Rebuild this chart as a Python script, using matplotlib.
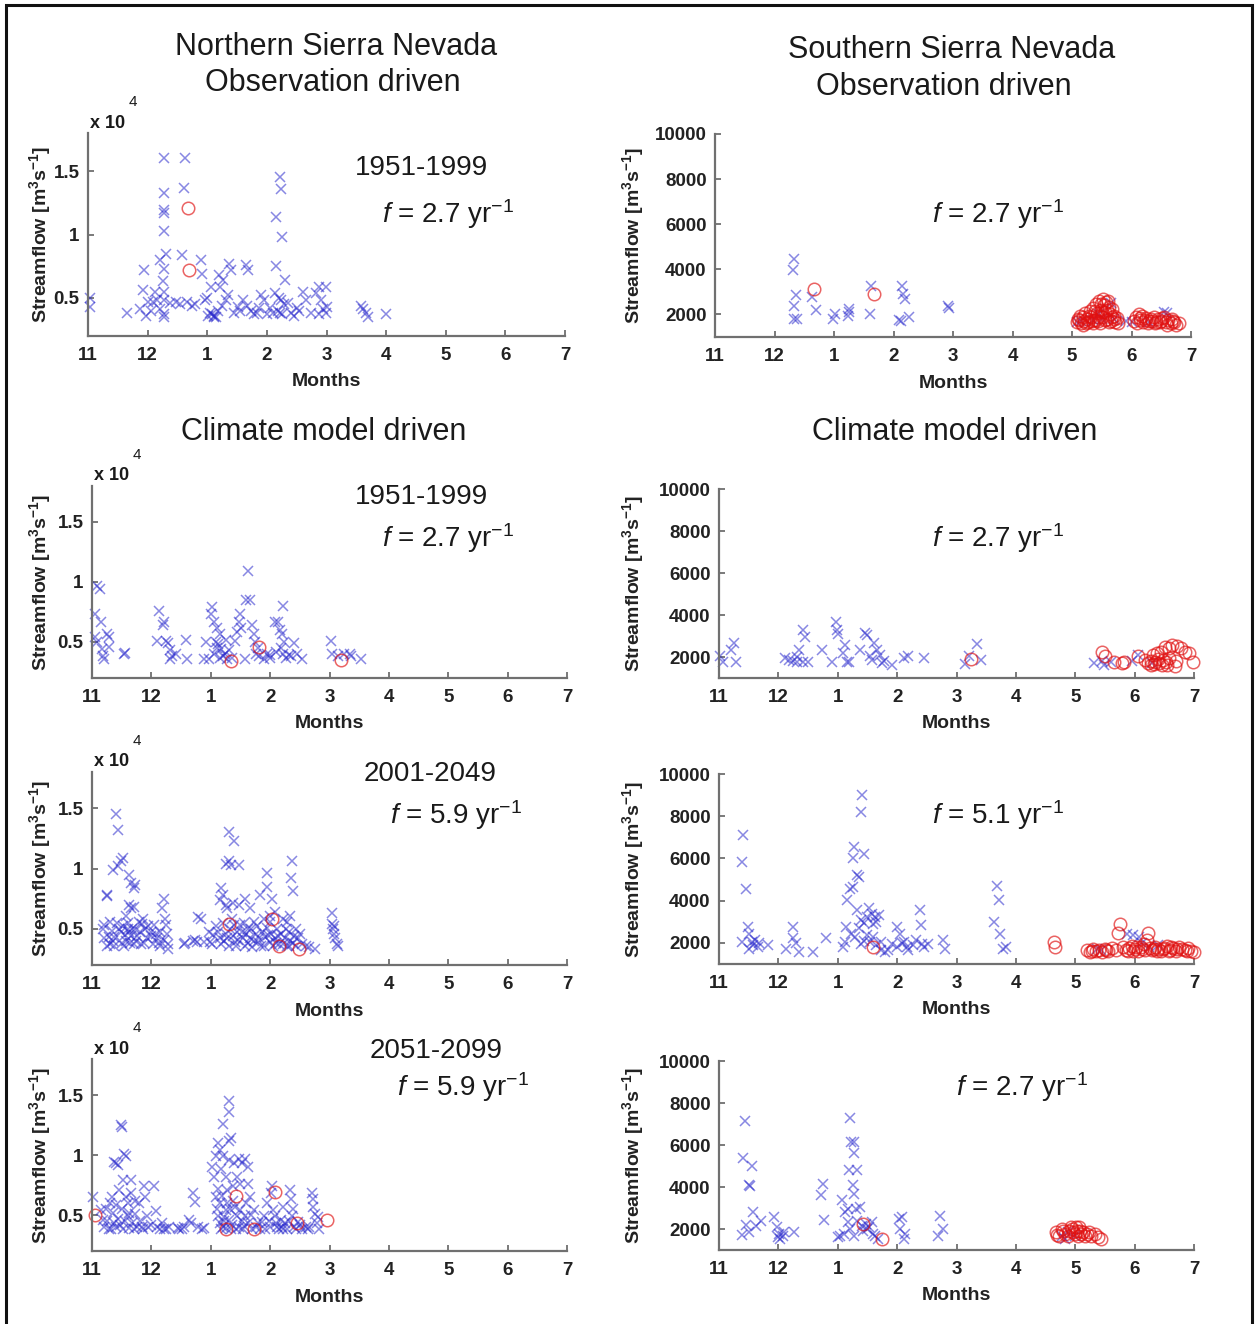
import matplotlib
matplotlib.use("Agg")
import matplotlib.pyplot as plt
from matplotlib.patches import Rectangle

plt.rcParams['font.family'] = ['Liberation Sans', 'DejaVu Sans']
plt.rcParams['mathtext.fontset'] = 'custom'
plt.rcParams['mathtext.rm'] = 'Liberation Sans'
plt.rcParams['mathtext.it'] = 'Liberation Sans:italic'
plt.rcParams['mathtext.bf'] = 'Liberation Sans:bold'

# x position = months after 1 November (0 -> "11", 8 -> "7")
month_labels = ['11', '12', '1', '2', '3', '4', '5', '6', '7']

# ---- Northern Sierra Nevada, observation driven (flow in 1e4 m3/s)
north_obs_x = [(0.04, 0.50), (0.04, 0.43), (0.65, 0.38), (0.87, 0.41), (0.93, 0.56), (0.94, 0.72), (1.0, 0.47),
               (1.09, 0.47), (1.16, 0.48), (1.21, 0.41), (1.20, 0.80), (1.27, 1.60), (1.27, 1.33), (1.27, 1.19),
               (1.28, 1.17), (1.27, 1.03), (1.27, 0.73), (1.26, 0.63), (1.27, 0.55), (1.27, 0.48), (1.27, 0.37),
               (1.28, 0.35), (1.31, 0.85), (1.58, 0.84), (1.62, 1.60), (1.61, 1.37), (1.38, 0.46), (1.47, 0.47),
               (1.55, 0.45), (1.66, 0.47), (1.80, 0.45), (1.89, 0.80), (1.92, 0.69), (1.97, 0.48), (2.0, 0.50),
               (2.07, 0.59), (2.04, 0.38), (2.11, 0.35), (2.14, 0.35), (2.2, 0.68), (2.22, 0.59), (2.27, 0.64),
               (2.31, 0.48), (2.37, 0.77), (2.39, 0.72), (2.45, 0.38), (2.51, 0.43), (2.65, 0.76), (2.69, 0.72),
               (2.67, 0.44), (2.79, 0.37), (2.84, 0.38), (2.9, 0.52), (2.96, 0.48), (3.01, 0.37), (3.1, 0.38),
               (3.22, 1.45), (3.23, 1.36), (3.16, 1.14), (3.26, 0.98), (3.15, 0.75), (3.3, 0.64), (3.13, 0.54),
               (3.2, 0.50), (3.24, 0.48), (3.28, 0.45), (3.22, 0.38), (3.25, 0.37), (3.35, 0.46), (3.4, 0.38),
               (3.46, 0.36), (3.54, 0.40), (3.6, 0.55), (3.66, 0.48), (3.74, 0.38), (3.83, 0.54), (3.88, 0.59),
               (3.91, 0.48), (3.99, 0.59), (4.01, 0.43), (3.99, 0.38), (3.88, 0.37), (3.94, 0.41), (4.58, 0.44),
               (4.61, 0.41), (4.67, 0.38), (4.70, 0.35), (5.0, 0.37), (1.12, 0.55), (1.05, 0.40), (0.98, 0.36),
               (2.02, 0.36), (2.08, 0.37), (2.12, 0.36), (2.18, 0.40), (2.25, 0.44), (2.35, 0.52), (2.55, 0.40),
               (2.6, 0.48), (2.73, 0.40), (2.86, 0.42), (3.05, 0.42), (3.18, 0.40), (3.5, 0.42), (1.74, 0.44)]
north_obs_o = [(1.67, 1.21), (1.69, 0.72)]

# ---- Southern Sierra Nevada, observation driven (m3/s)
south_obs_x = [(1.33, 4440), (1.31, 3960), (1.36, 2880), (1.33, 2390), (1.32, 1810), (1.38, 1810), (1.63, 2790),
               (1.70, 2200), (1.99, 1810), (2.01, 2030), (2.23, 1910), (2.26, 2250), (2.25, 2100), (2.61, 2000),
               (2.63, 3270), (3.10, 1770), (3.14, 3270), (3.16, 2900), (3.20, 2690), (3.26, 1880), (3.12, 1700),
               (3.91, 2370), (3.93, 2300), (6.08, 1650), (6.15, 1700), (6.5, 1800), (6.65, 2500), (6.9, 1700),
               (7.0, 1650), (7.55, 2100), (7.6, 2050), (6.7, 1800), (6.35, 1750), (6.45, 2000), (7.3, 1650)]
south_obs_o = [(1.66, 3150), (2.67, 2900),
               (6.08, 1650), (6.12, 1750), (6.15, 1600), (6.18, 1900), (6.2, 1700), (6.22, 2050), (6.25, 1800),
               (6.27, 1650), (6.3, 2150), (6.32, 1900), (6.35, 2300), (6.37, 1750), (6.4, 2450), (6.42, 2050),
               (6.44, 1700), (6.46, 2600), (6.48, 2200), (6.5, 1900), (6.52, 2700), (6.54, 2400), (6.56, 2100),
               (6.58, 1800), (6.6, 2600), (6.62, 2350), (6.64, 2000), (6.66, 1700), (6.68, 2250), (6.7, 1950),
               (6.72, 1650), (6.75, 1850), (6.78, 1600), (7.05, 1700), (7.08, 1900), (7.12, 2000), (7.15, 1750),
               (7.18, 1950), (7.2, 1650), (7.25, 1850), (7.28, 1600), (7.32, 1800), (7.35, 1700), (7.38, 1900),
               (7.42, 1650), (7.45, 1800), (7.5, 1700), (7.55, 1900), (7.58, 1650), (7.62, 1750), (7.66, 1600),
               (7.7, 1700), (7.75, 1550), (7.8, 1600),
               (6.1, 1800), (6.14, 1950), (6.19, 1550), (6.24, 1600), (6.28, 1950), (6.33, 1700), (6.38, 2150),
               (6.43, 1900), (6.47, 1600), (6.51, 2100), (6.55, 1750), (6.59, 2200), (6.63, 1650), (6.67, 1900),
               (6.71, 1800), (6.36, 1600), (6.41, 1750), (6.57, 2550), (6.49, 2450),
               (7.1, 1600), (7.14, 1850), (7.22, 1750), (7.3, 1700), (7.4, 1600), (7.48, 1650), (7.52, 1850),
               (7.6, 1550), (7.68, 1800), (7.72, 1650)]

# ---- Northern, climate model 1951-1999
north_hist_x = [(0.08, 0.97), (0.13, 0.94), (0.05, 0.73), (0.15, 0.67), (0.25, 0.57), (0.28, 0.54), (0.05, 0.54),
                (0.08, 0.50), (0.17, 0.44), (0.18, 0.38), (0.21, 0.36), (0.28, 0.46), (0.54, 0.40), (0.56, 0.41),
                (1.13, 0.76), (1.21, 0.67), (1.20, 0.64), (1.10, 0.51), (1.24, 0.51), (1.28, 0.49), (1.31, 0.43),
                (1.34, 0.38), (1.31, 0.36), (1.41, 0.40), (1.59, 0.52), (1.60, 0.36), (1.92, 0.50), (1.89, 0.36),
                (1.97, 0.36), (2.02, 0.79), (2.0, 0.73), (2.05, 0.67), (2.11, 0.62), (2.15, 0.57), (2.08, 0.50),
                (2.13, 0.48), (2.18, 0.44), (2.24, 0.40), (2.28, 0.36), (2.31, 0.43), (2.4, 0.51), (2.44, 0.58),
                (2.47, 0.67), (2.51, 0.62), (2.5, 0.73), (2.57, 0.36), (2.6, 0.85), (2.63, 1.09), (2.66, 0.85),
                (2.69, 0.64), (2.73, 0.57), (2.75, 0.50), (2.77, 0.40), (2.82, 0.38), (2.89, 0.36), (2.95, 0.40),
                (2.99, 0.39), (3.08, 0.67), (3.13, 0.67), (3.16, 0.60), (3.21, 0.80), (3.2, 0.57), (3.24, 0.50),
                (3.21, 0.40), (3.31, 0.39), (3.35, 0.38), (3.4, 0.49), (3.46, 0.40), (3.53, 0.36), (4.02, 0.51),
                (4.05, 0.40), (4.15, 0.38), (4.24, 0.40), (4.34, 0.40), (4.37, 0.38), (4.53, 0.36), (2.1, 0.45),
                (2.2, 0.38), (2.36, 0.37), (3.0, 0.37), (3.1, 0.42), (2.06, 0.40), (2.16, 0.37), (2.26, 0.52),
                (2.8, 0.45), (3.27, 0.37), (3.18, 0.45)]
north_hist_o = [(2.34, 0.34), (2.81, 0.46), (4.2, 0.35)]

# ---- Southern, climate model 1951-1999
south_hist_x = [(0.01, 2030), (0.06, 1750), (0.21, 2310), (0.26, 2650), (0.28, 1750), (1.11, 1950), (1.18, 1850),
                (1.25, 1800), (1.31, 1750), (1.35, 2340), (1.41, 3300), (1.45, 2960), (1.41, 1750), (1.5, 1750),
                (1.31, 2000), (1.73, 2340), (1.91, 1750), (1.97, 3660), (1.99, 3270), (2.01, 3110), (2.08, 2190),
                (2.13, 2570), (2.15, 1750), (2.19, 1750), (2.38, 2310), (2.46, 3150), (2.5, 3040), (2.55, 2030),
                (2.57, 1880), (2.61, 2650), (2.66, 2340), (2.71, 2110), (2.75, 1720), (2.78, 1800), (2.91, 1640),
                (3.11, 1950), (3.18, 2030), (3.45, 1950), (4.15, 1690), (4.21, 2030), (4.35, 2620), (4.41, 1850),
                (6.31, 1720), (6.45, 1800), (6.48, 1640), (7.05, 2110), (6.95, 1800), (6.6, 1750), (7.3, 1700)]
south_hist_o = [(4.25, 1910), (6.45, 2220), (6.5, 2030), (6.65, 1750), (6.79, 1720), (6.82, 1750), (7.05, 2030),
                (7.18, 1880), (7.28, 1800), (7.31, 2110), (7.38, 2190), (7.45, 2260), (7.51, 2500), (7.58, 2420),
                (7.63, 2570), (7.71, 2530), (7.78, 2420), (7.85, 2260), (7.91, 2190), (7.98, 1750), (7.41, 1720),
                (7.35, 1750), (7.48, 1880), (7.58, 1950), (7.22, 1700), (7.28, 1640), (7.55, 1640), (7.68, 1570),
                (7.7, 1800), (7.33, 1650), (7.4, 1900), (7.46, 1600), (7.53, 1750)]

# ---- Northern, climate model 2001-2049
north_mid_x = [(0.41, 1.45), (0.43, 1.32), (0.36, 0.99), (0.44, 1.02), (0.49, 1.06), (0.52, 1.09), (0.25, 0.78),
               (0.26, 0.77), (0.31, 0.56), (0.21, 0.53), (0.28, 0.43), (0.25, 0.36), (0.37, 0.36), (0.35, 0.40),
               (0.18, 0.50), (0.21, 0.42), (0.31, 0.37), (0.37, 0.43), (0.63, 0.95), (0.66, 0.88), (0.70, 0.84),
               (0.73, 0.86), (0.63, 0.70), (0.66, 0.67), (0.71, 0.68), (0.57, 0.61), (0.60, 0.50), (0.62, 0.47),
               (0.66, 0.44), (0.70, 0.37), (0.54, 0.36), (0.73, 0.50), (0.76, 0.44), (0.83, 0.37), (0.79, 0.56),
               (0.86, 0.58), (0.89, 0.50), (0.92, 0.42), (0.99, 0.47), (1.02, 0.37), (1.05, 0.53), (1.08, 0.46),
               (1.10, 0.42), (1.14, 0.47), (1.15, 0.36), (1.18, 0.67), (1.21, 0.75), (1.23, 0.58), (1.25, 0.53),
               (1.26, 0.46), (1.28, 0.37), (1.28, 0.33), (1.55, 0.37), (1.57, 0.38), (1.70, 0.40), (1.73, 0.41),
               (1.76, 0.39), (1.79, 0.60), (1.83, 0.58), (1.89, 0.39), (1.99, 0.39), (1.97, 0.47), (2.02, 0.37),
               (2.31, 1.30), (2.39, 1.23), (2.31, 1.06), (2.25, 1.04), (2.34, 1.03), (2.47, 1.03), (2.18, 0.84),
               (2.21, 0.78), (2.15, 0.74), (2.25, 0.70), (2.28, 0.67), (2.37, 0.71), (2.47, 0.70), (2.57, 0.75),
               (2.66, 0.67), (2.83, 0.78), (2.95, 0.96), (2.95, 0.85), (3.03, 0.75), (3.08, 0.64), (2.99, 0.61),
               (2.89, 0.58), (3.37, 1.06), (3.35, 0.92), (3.39, 0.81), (3.21, 0.58), (3.28, 0.56), (3.34, 0.61),
               (3.44, 0.50), (3.47, 0.42), (3.54, 0.37), (3.60, 0.36), (3.66, 0.35), (3.76, 0.33), (2.12, 0.47),
               (2.15, 0.42), (2.18, 0.37), (2.25, 0.46), (2.28, 0.42), (2.31, 0.36), (2.37, 0.44), (2.41, 0.39),
               (2.44, 0.47), (2.50, 0.53), (2.54, 0.42), (2.57, 0.36), (2.60, 0.46), (2.63, 0.50), (2.66, 0.42),
               (2.70, 0.35), (2.73, 0.56), (2.76, 0.46), (2.79, 0.39), (2.86, 0.47), (2.89, 0.36), (2.92, 0.43),
               (2.95, 0.51), (2.99, 0.39), (3.02, 0.46), (3.05, 0.36), (3.08, 0.42), (3.12, 0.50), (3.15, 0.37),
               (3.18, 0.46), (3.25, 0.42), (3.28, 0.36), (3.31, 0.47), (3.34, 0.40), (3.41, 0.44), (3.50, 0.46),
               (4.04, 0.63), (4.05, 0.54), (4.06, 0.50), (4.08, 0.46), (4.10, 0.42), (4.13, 0.37), (4.15, 0.36),
               (4.07, 0.52),
               (0.46, 0.50), (0.48, 0.47), (0.50, 0.38), (0.52, 0.52), (0.55, 0.45), (0.58, 0.40), (0.61, 0.55),
               (0.64, 0.38), (0.68, 0.50), (0.74, 0.40), (0.81, 0.47), (0.84, 0.54), (0.88, 0.38), (0.95, 0.52),
               (1.00, 0.44), (1.12, 0.38), (1.22, 0.41), (0.42, 0.55), (0.33, 0.48), (2.20, 0.55), (2.23, 0.40),
               (2.33, 0.50), (2.35, 0.58), (2.39, 0.53), (2.43, 0.36), (2.46, 0.41), (2.52, 0.47), (2.56, 0.55),
               (2.62, 0.38), (2.68, 0.50), (2.72, 0.40), (2.78, 0.52), (2.82, 0.42), (2.84, 0.36), (2.97, 0.45),
               (3.00, 0.56), (3.10, 0.38), (3.14, 0.44), (3.22, 0.37), (3.26, 0.50), (3.32, 0.36), (3.38, 0.38),
               (3.44, 0.36), (2.04, 0.45), (2.08, 0.52)]
north_mid_o = [(2.30, 0.54), (3.03, 0.58), (3.15, 0.36), (3.48, 0.33)]

# ---- Southern, climate model 2001-2049
south_mid_x = [(0.41, 7100), (0.39, 5840), (0.45, 4530), (0.48, 2760), (0.38, 2050), (0.51, 2440), (0.55, 2050),
               (0.58, 1890), (0.61, 2130), (0.65, 1810), (0.68, 2000), (0.51, 1730), (0.82, 1890), (1.12, 1730),
               (1.25, 2760), (1.24, 2210), (1.30, 2000), (1.35, 1570), (1.58, 1570), (1.80, 2250), (2.08, 1810),
               (2.14, 2760), (2.16, 4020), (2.20, 4530), (2.26, 4650), (2.27, 6550), (2.25, 6000), (2.32, 5210),
               (2.35, 5130), (2.40, 9010), (2.39, 8180), (2.45, 6230), (2.32, 3550), (2.39, 3070), (2.44, 2920),
               (2.49, 3230), (2.52, 3630), (2.57, 3390), (2.62, 3230), (2.65, 3000), (2.69, 3310), (2.55, 2050),
               (2.59, 2280), (2.65, 1890), (2.72, 2050), (2.12, 2050), (2.22, 2440), (2.29, 2280), (2.39, 1970),
               (2.49, 2360), (2.73, 1650), (2.79, 1570), (2.85, 1650), (2.92, 1970), (2.99, 2760), (3.05, 2440),
               (3.12, 2050), (3.16, 1810), (3.19, 1650), (3.26, 1890), (3.32, 2130), (3.39, 3550), (3.40, 2840),
               (3.42, 1970), (3.46, 1810), (3.52, 1970), (3.78, 2130), (3.80, 1730), (4.63, 3000), (4.69, 4690),
               (4.71, 4020), (4.74, 2440), (4.79, 1730), (4.83, 1810), (6.87, 2440), (6.97, 2360), (7.07, 2280),
               (7.12, 2000), (7.24, 1810), (6.43, 1650), (6.37, 1700), (7.4, 1900), (2.45, 2100), (2.60, 2900),
               (2.35, 2700), (3.0, 1800), (3.08, 2000)]
south_mid_o = [(2.59, 1810), (5.65, 2050), (5.66, 1810),
               (6.2, 1650), (6.25, 1550), (6.3, 1700), (6.35, 1600), (6.4, 1650), (6.45, 1550), (6.5, 1700),
               (6.55, 1600), (6.62, 1750), (6.68, 1650), (6.72, 2450), (6.76, 2900), (6.8, 1800), (6.85, 1650),
               (6.9, 1750), (6.95, 1850), (7.0, 1700), (7.05, 1600), (7.1, 1800), (7.15, 1950), (7.2, 2150),
               (7.23, 2450), (7.26, 1750), (7.3, 1650), (7.35, 1800), (7.4, 1700), (7.45, 1600), (7.5, 1750),
               (7.55, 1850), (7.6, 1650), (7.65, 1750), (7.7, 1600), (7.75, 1800), (7.8, 1700), (7.85, 1650),
               (7.9, 1750), (7.95, 1600), (8.0, 1550), (6.98, 1600), (7.12, 1700), (7.38, 1600), (7.62, 1800),
               (6.28, 1600), (6.52, 1650), (6.88, 1600), (7.02, 1800), (7.18, 1650), (7.33, 1700), (7.48, 1700),
               (7.58, 1600), (7.72, 1700), (7.88, 1600)]

# ---- Northern, climate model 2051-2099
north_late_x = [(0.02, 0.65), (0.15, 0.54), (0.18, 0.46), (0.21, 0.40), (0.28, 0.38), (0.31, 0.60), (0.34, 0.65),
                (0.37, 0.94), (0.41, 0.93), (0.44, 0.92), (0.45, 0.71), (0.37, 0.43), (0.41, 0.40), (0.44, 0.47),
                (0.49, 1.25), (0.50, 1.23), (0.54, 1.01), (0.57, 0.99), (0.52, 0.79), (0.57, 0.65), (0.60, 0.60),
                (0.60, 0.49), (0.63, 0.39), (0.66, 0.79), (0.66, 0.68), (0.68, 0.43), (0.73, 0.51), (0.76, 0.40),
                (0.79, 0.60), (0.84, 0.40), (0.88, 0.74), (0.89, 0.65), (0.92, 0.49), (0.95, 0.40), (1.05, 0.74),
                (1.08, 0.53), (1.10, 0.40), (1.15, 0.38), (1.18, 0.43), (1.21, 0.38), (1.44, 0.39), (1.47, 0.38),
                (1.63, 0.46), (1.66, 0.43), (1.70, 0.68), (1.73, 0.61), (1.79, 0.40), (1.86, 0.38), (1.89, 0.39),
                (2.30, 1.45), (2.30, 1.36), (2.21, 1.26), (2.34, 1.14), (2.31, 1.12), (2.12, 1.10), (2.15, 1.04),
                (2.08, 0.99), (2.21, 0.99), (2.02, 0.90), (2.05, 0.82), (2.18, 0.88), (2.31, 0.96), (2.39, 0.93),
                (2.47, 0.97), (2.52, 0.93), (2.57, 0.97), (2.62, 0.90), (2.25, 0.82), (2.28, 0.71), (2.37, 0.74),
                (2.44, 0.82), (2.50, 0.76), (2.63, 0.76), (2.66, 0.65), (2.08, 0.65), (2.15, 0.60), (2.12, 0.49),
                (2.15, 0.43), (2.18, 0.38), (2.25, 0.54), (2.28, 0.60), (2.31, 0.46), (2.34, 0.38), (2.41, 0.57),
                (2.44, 0.49), (2.47, 0.40), (2.50, 0.54), (2.54, 0.38), (2.57, 0.49), (2.60, 0.60), (2.63, 0.43),
                (2.70, 0.38), (2.73, 0.54), (2.76, 0.40), (2.83, 0.38), (2.86, 0.44), (2.89, 0.49), (2.95, 0.60),
                (3.02, 0.68), (3.03, 0.74), (3.05, 0.54), (3.08, 0.49), (3.12, 0.40), (3.15, 0.38), (3.18, 0.46),
                (3.21, 0.57), (3.25, 0.43), (3.28, 0.38), (3.34, 0.71), (3.35, 0.63), (3.37, 0.49), (3.41, 0.40),
                (3.44, 0.38), (3.47, 0.44), (3.54, 0.38), (3.60, 0.40), (3.63, 0.38), (3.70, 0.68), (3.72, 0.63),
                (3.73, 0.57), (3.76, 0.51), (3.79, 0.43), (3.83, 0.38), (2.20, 0.40), (2.22, 0.45), (2.26, 0.39),
                (3.10, 0.43), (3.20, 0.40),
                (0.23, 0.55), (0.26, 0.45), (0.32, 0.38), (0.35, 0.52), (0.40, 0.58), (0.47, 0.42), (0.50, 0.55),
                (0.53, 0.38), (0.56, 0.45), (0.62, 0.52), (0.70, 0.38), (0.72, 0.62), (0.81, 0.45), (0.86, 0.38),
                (1.00, 0.42), (1.25, 0.38), (1.29, 0.40), (1.52, 0.38), (1.55, 0.40), (2.10, 0.55), (2.13, 0.72),
                (2.19, 0.66), (2.23, 0.48), (2.33, 0.55), (2.36, 0.42), (2.38, 0.62), (2.42, 0.38), (2.52, 0.45),
                (2.56, 0.41), (2.67, 0.50), (2.80, 0.43), (2.92, 0.38), (2.98, 0.45), (3.00, 0.40), (3.22, 0.38),
                (3.31, 0.45), (3.39, 0.55), (3.51, 0.42), (3.66, 0.40), (3.80, 0.48)]
north_late_o = [(0.05, 0.50), (2.25, 0.38), (2.43, 0.66), (2.73, 0.38), (3.08, 0.69), (3.46, 0.43), (3.95, 0.46)]

# ---- Southern, climate model 2051-2099
south_late_x = [(0.43, 7120), (0.41, 5390), (0.55, 5010), (0.50, 4110), (0.52, 4050), (0.57, 2800), (0.45, 2190),
                (0.39, 1710), (0.50, 1840), (0.63, 2160), (0.70, 2400), (0.93, 2560), (0.99, 1600), (1.01, 1760),
                (1.07, 1680), (0.97, 2080), (1.03, 1520), (1.10, 1840), (1.27, 1840), (1.72, 3630), (1.75, 4160),
                (1.77, 2450), (2.00, 1600), (2.03, 1680), (2.07, 3360), (2.10, 1760), (2.13, 2800), (2.17, 2960),
                (2.19, 4800), (2.21, 7280), (2.23, 6160), (2.28, 6160), (2.27, 5600), (2.33, 4800), (2.25, 4080),
                (2.27, 3680), (2.30, 2960), (2.37, 3040), (2.17, 2320), (2.21, 2000), (2.27, 1680), (2.33, 2400),
                (2.40, 2160), (2.43, 1920), (2.47, 2240), (2.50, 2000), (2.53, 2080), (2.57, 2320), (2.60, 1760),
                (2.63, 1680), (2.67, 1520), (3.03, 2480), (3.05, 2000), (3.08, 2560), (3.12, 1520), (3.13, 1760),
                (3.68, 1680), (3.72, 2640), (3.77, 2000), (5.77, 1680), (5.83, 1520), (5.87, 1840), (6.00, 1680)]
south_late_o = [(2.43, 2240), (2.75, 1520), (5.67, 1840), (5.73, 1680), (5.77, 2000), (5.83, 1760), (5.90, 1920),
                (5.93, 2080), (5.97, 1840), (6.00, 1760), (6.03, 1920), (6.07, 2080), (6.10, 1760), (6.13, 1840),
                (6.17, 1680), (6.23, 1840), (6.27, 1680), (6.33, 1760), (6.39, 1600), (6.43, 1520), (5.95, 2000),
                (6.05, 1650), (5.70, 1700), (5.80, 1900), (5.88, 1650), (6.02, 2100), (6.08, 1900), (6.20, 1750)]

W, H = 1257, 1324
fig = plt.figure(figsize=(W / 100, H / 100), dpi=100)


def fig_text(x, y, s, **kw):
    kw.setdefault('ha', 'center')
    kw.setdefault('va', 'center')
    kw.setdefault('color', '#1a1a1a')
    fig.text(x / W, 1 - y / H, s, **kw)


def draw_panel(box, xs, os_, north, note, period=None):
    x0, x1, ytop, ybot = box
    ax = fig.add_axes([x0 / W, 1 - ybot / H, (x1 - x0) / W, (ybot - ytop) / H])
    bx, by = zip(*xs)
    ax.plot(bx, by, 'x', color='#2626cc', alpha=0.55, ms=7, mew=1.1, clip_on=False)
    ox, oy = zip(*os_)
    ax.plot(ox, oy, 'o', mfc='none', mec='#e01010', alpha=0.65, ms=9, mew=1.1, clip_on=False)
    ax.set_xlim(0, 8)
    ax.set_xticks(range(9))
    ax.set_xticklabels(month_labels, fontweight='bold', fontsize=13.5)
    if north:
        ax.set_ylim(0.2, 1.8)
        ax.set_yticks([0.5, 1, 1.5])
        ax.set_yticklabels(['0.5', '1', '1.5'], fontweight='bold', fontsize=13.5)
        fig_text(x0 + 20, ytop - 10, 'x 10', fontweight='bold', fontsize=13)
        fig_text(x0 + 45, ytop - 31, '4', fontsize=11)
    else:
        ax.set_ylim(1000, 10000)
        ax.set_yticks([2000, 4000, 6000, 8000, 10000])
        ax.set_yticklabels(['2000', '4000', '6000', '8000', '10000'], fontweight='bold', fontsize=13.5)
    for s in ['top', 'right']:
        ax.spines[s].set_visible(False)
    for s in ['left', 'bottom']:
        ax.spines[s].set_color('#707070')
        ax.spines[s].set_linewidth(1.6)
    ax.tick_params(direction='in', length=4, width=1.3, color='#707070', labelcolor='#222222')
    ax.tick_params(axis='x', pad=8)
    ax.tick_params(axis='y', pad=6)
    ax.patch.set_alpha(0)
    ylab_x = 40 if north else 633
    fig_text(ylab_x, (ytop + ybot) / 2, r'Streamflow [m$^{\mathbf{3}}$s$^{\mathbf{-1}}$]',
             rotation=90, fontweight='bold', fontsize=14, color='#222222')
    fig_text((x0 + x1) / 2, ybot + 46, 'Months', fontweight='bold', fontsize=14, color='#222222')
    if period is not None:
        fig_text(period[1], period[2], period[0], fontsize=20)
    fig_text(note[1], note[2], note[0], fontsize=20)


draw_panel((88, 565, 133, 336), north_obs_x, north_obs_o, True,
           (r'$f$ = 2.7 yr$^{-1}$', 448, 214), ('1951-1999', 422, 168))
draw_panel((715, 1191, 134, 337), south_obs_x, south_obs_o, False,
           (r'$f$ = 2.7 yr$^{-1}$', 998, 214))
draw_panel((92, 567, 486, 678), north_hist_x, north_hist_o, True,
           (r'$f$ = 2.7 yr$^{-1}$', 448, 538), ('1951-1999', 422, 497))
draw_panel((719, 1194, 489, 678), south_hist_x, south_hist_o, False,
           (r'$f$ = 2.7 yr$^{-1}$', 998, 538))
draw_panel((92, 567, 772, 965), north_mid_x, north_mid_o, True,
           (r'$f$ = 5.9 yr$^{-1}$', 456, 815), ('2001-2049', 430, 774))
draw_panel((719, 1194, 774, 964), south_mid_x, south_mid_o, False,
           (r'$f$ = 5.1 yr$^{-1}$', 998, 815))
draw_panel((92, 567, 1059, 1251), north_late_x, north_late_o, True,
           (r'$f$ = 5.9 yr$^{-1}$', 463, 1087), ('2051-2099', 436, 1051))
draw_panel((719, 1194, 1061, 1250), south_late_x, south_late_o, False,
           (r'$f$ = 2.7 yr$^{-1}$', 1022, 1087))

# column titles
fig_text(336, 47, 'Northern Sierra Nevada', fontsize=22)
fig_text(333, 83, 'Observation driven', fontsize=22)
fig_text(952, 50, 'Southern Sierra Nevada', fontsize=22)
fig_text(944, 87, 'Observation driven', fontsize=22)
fig_text(324, 432, 'Climate model driven', fontsize=22)
fig_text(955, 432, 'Climate model driven', fontsize=22)

# frame around the figure
fig.add_artist(Rectangle((6 / W, -0.01), (1252 - 6) / W, 1.01 - 5 / H, transform=fig.transFigure,
                         fill=False, edgecolor='#111111', linewidth=2.2))

fig.savefig('out.png', dpi=100)
